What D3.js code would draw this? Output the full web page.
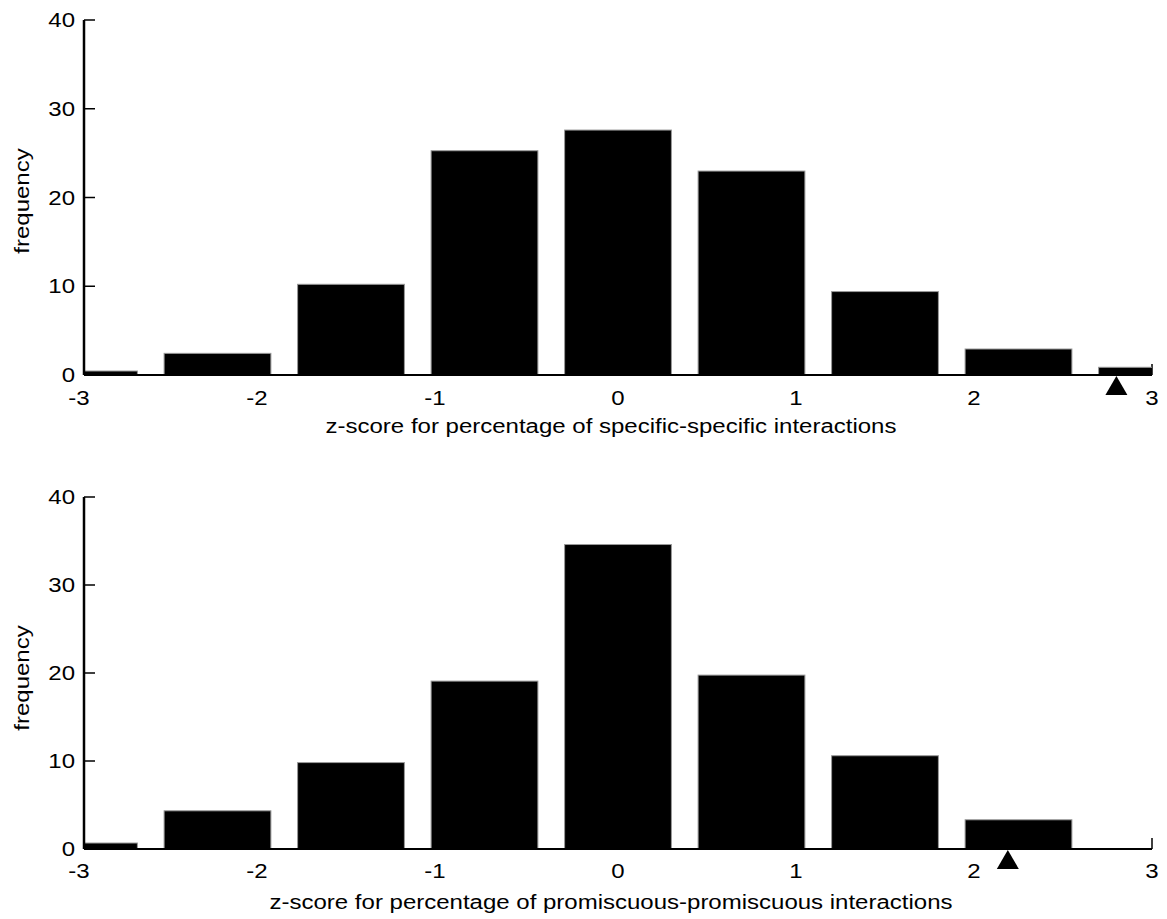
<!DOCTYPE html>
<html>
<head>
<meta charset="utf-8">
<script src="https://cdn.jsdelivr.net/npm/d3@7"></script>
<style>
  body { margin: 0; background: #fff; }
  text { font-family: "Liberation Sans", Arial, Helvetica, sans-serif; fill: #000; }
</style>
</head>
<body>
<svg id="fig" width="1167" height="919"></svg>
<script>
// Histogram bins (centres, z-score units) and the frequency (%) in each bin
const binCenters = [-3, -2.25, -1.5, -0.75, 0, 0.75, 1.5, 2.25, 3];
const specificFreq = [0.45, 2.44, 10.22, 25.27, 27.6, 22.98, 9.4, 2.93, 0.87];
const promiscuousFreq = [0.68, 4.34, 9.82, 19.08, 34.6, 19.76, 10.6, 3.32, 0];
// Observed z-score of the real network, marked with a triangle
const observedZ = [2.80, 2.19];
const xTicks = [-3, -2, -1, 0, 1, 2, 3];
const yTicks = [0, 10, 20, 30, 40];
const xTitles = [
  "z-score for percentage of specific-specific interactions",
  "z-score for percentage of promiscuous-promiscuous interactions"
];
const yTitle = "frequency";

const barWidth = 0.6;       // bar width in z-score units
const stretch = 1.2;        // wide bitmap-style lettering
const fontSize = 20;

const svg = d3.select("#fig");
const left = 84, right = 1152;

const panels = [
  { values: specificFreq, marker: observedZ[0], title: xTitles[0],
    top: 20, bottom: 375, tickBase: 405, titleBase: 433, yTitleY: 201 },
  { values: promiscuousFreq, marker: observedZ[1], title: xTitles[1],
    top: 497, bottom: 849, tickBase: 878, titleBase: 909, yTitleY: 678 }
];

const x = d3.scaleLinear().domain([-3, 3]).range([left, right]);

function widen(sel) {
  sel.each(function () {
    const w = this.getComputedTextLength();
    d3.select(this).attr("textLength", w * stretch).attr("lengthAdjust", "spacingAndGlyphs");
  });
}

panels.forEach((p, i) => {
  const y = d3.scaleLinear().domain([0, 40]).range([p.bottom, p.top]);
  const g = svg.append("g");

  const clipId = "clip" + i;
  svg.append("clipPath").attr("id", clipId)
    .append("rect").attr("x", left).attr("y", p.top - 5)
    .attr("width", right - left).attr("height", p.bottom - p.top + 5);

  // inward x ticks (sit behind the bars)
  g.selectAll(".xt").data(xTicks).join("line")
    .attr("x1", d => x(d)).attr("x2", d => x(d))
    .attr("y1", y(0)).attr("y2", y(0) - 11)
    .attr("stroke", "#000").attr("stroke-width", 1.5);

  // bars
  g.append("g").attr("clip-path", `url(#${clipId})`)
    .selectAll("rect").data(binCenters.map((c, k) => ({ c, v: p.values[k] })))
    .join("rect")
    .attr("x", d => x(d.c - barWidth / 2))
    .attr("width", d => x(d.c + barWidth / 2) - x(d.c - barWidth / 2))
    .attr("y", d => y(d.v))
    .attr("height", d => y(0) - y(d.v))
    .attr("fill", "#000")
    .attr("stroke", "#999").attr("stroke-width", d => d.v > 0 ? 1 : 0);

  // axis lines
  g.append("line").attr("x1", left).attr("x2", right)
    .attr("y1", y(0)).attr("y2", y(0))
    .attr("stroke", "#000").attr("stroke-width", 2);
  g.append("line").attr("x1", left).attr("x2", left)
    .attr("y1", y(40)).attr("y2", y(0))
    .attr("stroke", "#000").attr("stroke-width", 2.5);

  // inward y ticks
  g.selectAll(".yt").data(yTicks).join("line")
    .attr("x1", left).attr("x2", left + 11)
    .attr("y1", d => y(d)).attr("y2", d => y(d))
    .attr("stroke", "#000").attr("stroke-width", 1.5);

  // y tick labels
  g.selectAll(".yl").data(yTicks).join("text")
    .attr("x", left - 9).attr("y", d => y(d) + 7)
    .attr("text-anchor", "end").attr("font-size", fontSize)
    .text(d => d)
    .call(widen);

  // x tick labels
  g.selectAll(".xl").data(xTicks).join("text")
    .attr("x", d => x(d) - (d < 0 ? 5 : 0)).attr("y", p.tickBase)
    .attr("text-anchor", "middle").attr("font-size", fontSize)
    .text(d => d)
    .call(widen);

  // observed value marker
  const mx = x(p.marker), my = y(0) + 1;
  g.append("path")
    .attr("d", `M${mx},${my} L${mx + 11},${my + 19} L${mx - 11},${my + 19} Z`)
    .attr("fill", "#000");

  // axis titles
  g.append("text")
    .attr("x", (left + right) / 2 - 7).attr("y", p.titleBase)
    .attr("text-anchor", "middle").attr("font-size", fontSize)
    .text(p.title)
    .call(widen);

  g.append("text")
    .attr("transform", `translate(29,${p.yTitleY}) rotate(-90)`)
    .attr("text-anchor", "middle").attr("font-size", fontSize)
    .text(yTitle)
    .call(widen);
});
</script>
</body>
</html>
